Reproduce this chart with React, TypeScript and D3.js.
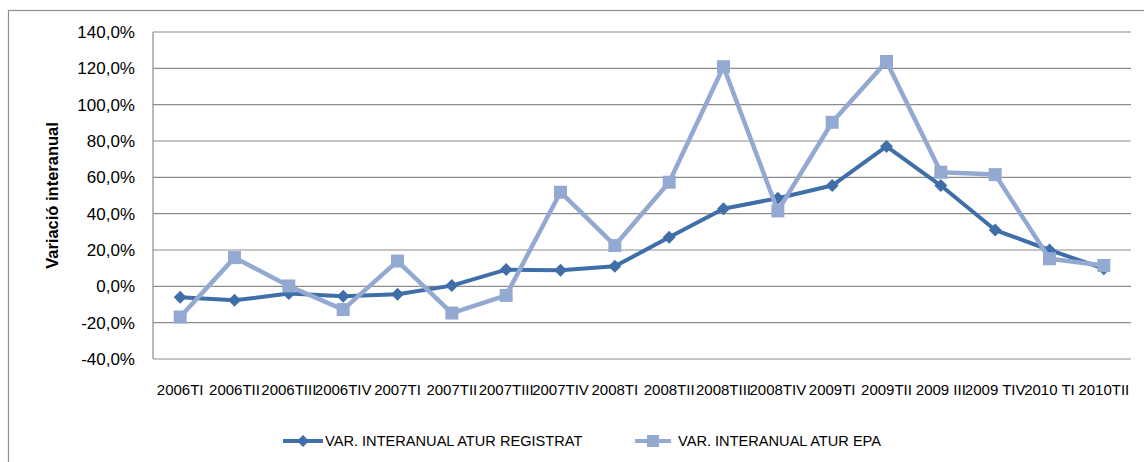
import React from 'react'
import * as d3 from 'd3'

// quarters shown on the x axis
const quarters = [
  '2006TI', '2006TII', '2006TIII', '2006TIV',
  '2007TI', '2007TII', '2007TIII', '2007TIV',
  '2008TI', '2008TII', '2008TIII', '2008TIV',
  '2009TI', '2009TII', '2009 III', '2009 TIV',
  '2010 TI', '2010TII',
]

// var. interanual atur registrat (%)
const registrat = [-6, -7.7, -4, -5.5, -4.4, 0.4, 9.2, 8.8, 11, 27, 42.7, 48.5, 55.5, 77, 55.5, 31, 20, 9.7]

// var. interanual atur EPA (%)
const epa = [-16.9, 15.8, 0.2, -12.8, 13.9, -14.7, -5, 51.8, 22.5, 57.3, 120.9, 41.5, 90.3, 123.8, 62.8, 61.5, 15.2, 11.5]

const yTicks = [-40, -20, 0, 20, 40, 60, 80, 100, 120, 140]

const seriesNames = ['VAR. INTERANUAL ATUR REGISTRAT', 'VAR. INTERANUAL ATUR EPA']
const colors = ['#3F6EA8', '#93A9D2']

const W = 1144
const H = 462
const plot = { left: 153, right: 1131, top: 32, bottom: 359 }

const fmt = (v: number) => v.toFixed(1).replace('.', ',') + '%'

export default function App() {
  const x = d3.scaleBand<string>()
    .domain(quarters)
    .range([plot.left, plot.right])
  const y = d3.scaleLinear()
    .domain([-40, 140])
    .range([plot.bottom, plot.top])

  const cx = (q: string) => (x(q) as number) + x.bandwidth() / 2

  const line = d3.line<number>()
    .x((_, i) => cx(quarters[i]))
    .y(d => y(d))

  const diamond = (px: number, py: number, r: number) =>
    `M${px},${py - r}L${px + r},${py}L${px},${py + r}L${px - r},${py}Z`

  const legend = [
    { x1: 283, x2: 323, tx: 325 },
    { x1: 635, x2: 671, tx: 678 },
  ]
  const legendY = 441

  return (
    <div style={{ position: 'fixed', left: 0, top: 0, width: W, height: H, background: '#fff' }}>
      <svg width={W} height={H} style={{ display: 'block' }}>
        {/* chart border */}
        <rect x={8.5} y={10.5} width={W + 20} height={H + 20} fill="none" stroke="#8E8E8E" strokeWidth={1.2} />

        {/* grid */}
        {yTicks.map(t => (
          <line key={t} x1={plot.left} x2={plot.right} y1={y(t)} y2={y(t)} stroke="#8C8C8C" strokeWidth={1.2} />
        ))}
        <line x1={plot.left} x2={plot.left} y1={plot.top} y2={plot.bottom} stroke="#8C8C8C" strokeWidth={1.2} />

        {/* y labels */}
        {yTicks.map(t => (
          <text key={t} x={135} y={y(t)} dy="0.36em" textAnchor="end"
            fontFamily="'Liberation Sans', Arial, sans-serif" fontSize={17} fill="#000">
            {fmt(t)}
          </text>
        ))}
        <text transform={`translate(58,${(plot.top + plot.bottom) / 2}) rotate(-90)`} textAnchor="middle"
          fontFamily="'Liberation Sans', Arial, sans-serif" fontSize={16.5} fontWeight="bold" fill="#000">
          Variació interanual
        </text>

        {/* x labels */}
        {quarters.map(q => (
          <text key={q} x={cx(q)} y={395} textAnchor="middle"
            fontFamily="'Liberation Sans Narrow', 'Liberation Sans', sans-serif" fontSize={15} fill="#000">
            {q}
          </text>
        ))}

        {/* registrat */}
        <path d={line(registrat) || ''} fill="none" stroke={colors[0]} strokeWidth={4} strokeLinejoin="round" />
        {registrat.map((v, i) => (
          <path key={i} d={diamond(cx(quarters[i]), y(v), 6.5)} fill={colors[0]} />
        ))}

        {/* EPA */}
        <path d={line(epa) || ''} fill="none" stroke={colors[1]} strokeWidth={4.5} strokeLinejoin="round" />
        {epa.map((v, i) => (
          <rect key={i} x={cx(quarters[i]) - 6.5} y={y(v) - 6.5} width={13} height={13} fill={colors[1]} />
        ))}

        {/* legend */}
        {legend.map((l, i) => (
          <g key={i}>
            <line x1={l.x1} x2={l.x2} y1={legendY} y2={legendY} stroke={colors[i]} strokeWidth={4} />
            {i === 0
              ? <path d={diamond((l.x1 + l.x2) / 2, legendY, 6)} fill={colors[0]} />
              : <rect x={(l.x1 + l.x2) / 2 - 6} y={legendY - 6} width={12} height={12} fill={colors[1]} />}
            <text x={l.tx} y={legendY} dy="0.36em" fontFamily="'Liberation Sans', Arial, sans-serif"
              fontSize={14.6} fill="#000">
              {seriesNames[i]}
            </text>
          </g>
        ))}
      </svg>
    </div>
  )
}
